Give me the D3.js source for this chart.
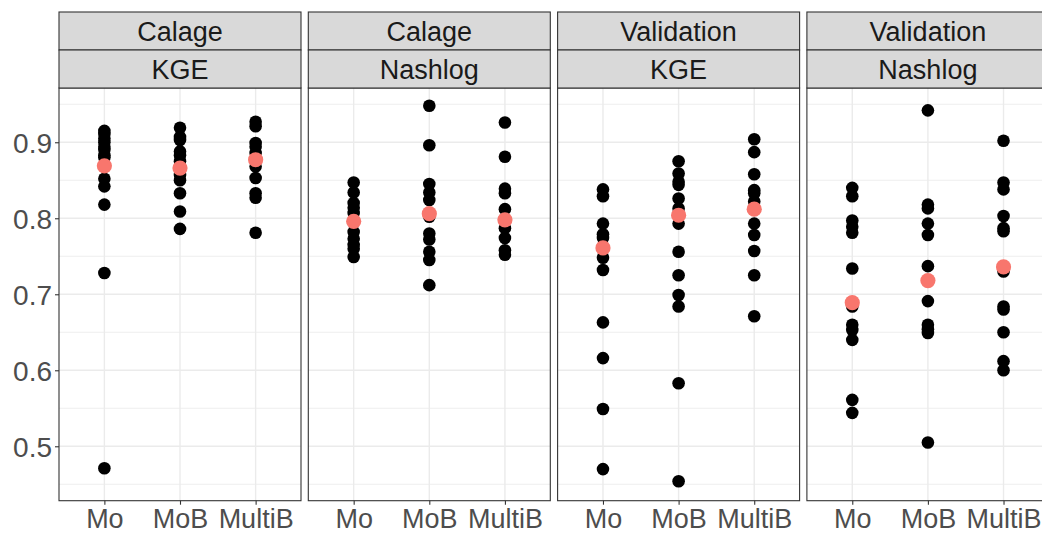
<!DOCTYPE html>
<html>
<head>
<meta charset="utf-8">
<script src="https://cdn.jsdelivr.net/npm/d3@7"></script>
<style>
  body { margin: 0; background: #fff; }
  svg { display: block; font-family: "Liberation Sans", Arial, sans-serif; }
</style>
</head>
<body>
<svg id="chart"></svg>
<script>
// categories and facet labels
const groups = ["Mo", "MoB", "MultiB"];
const periods = ["Calage", "Calage", "Validation", "Validation"];
const criteria = ["KGE", "Nashlog", "KGE", "Nashlog"];
const yTicks = [0.5, 0.6, 0.7, 0.8, 0.9];
const yMinor = [0.45, 0.55, 0.65, 0.75, 0.85, 0.95];

// individual points, one list per group (Mo, MoB, MultiB)
const calKGE = [
    [0.915, 0.911, 0.905, 0.900, 0.894, 0.890, 0.883, 0.880, 0.852, 0.842, 0.818, 0.728, 0.471],
    [0.919, 0.907, 0.903, 0.888, 0.883, 0.875, 0.857, 0.850, 0.833, 0.809, 0.786],
    [0.927, 0.921, 0.899, 0.894, 0.886, 0.868, 0.853, 0.833, 0.827, 0.781]
];
const calNash = [
    [0.847, 0.834, 0.820, 0.814, 0.807, 0.782, 0.773, 0.765, 0.760, 0.749],
    [0.948, 0.896, 0.845, 0.834, 0.824, 0.802, 0.780, 0.772, 0.756, 0.745, 0.712],
    [0.926, 0.881, 0.839, 0.833, 0.812, 0.787, 0.774, 0.758, 0.752]
];
const valKGE = [
    [0.838, 0.829, 0.793, 0.779, 0.774, 0.748, 0.732, 0.663, 0.616, 0.549, 0.470],
    [0.875, 0.859, 0.848, 0.844, 0.826, 0.813, 0.793, 0.756, 0.725, 0.699, 0.684, 0.583, 0.454],
    [0.904, 0.887, 0.858, 0.837, 0.833, 0.822, 0.793, 0.778, 0.757, 0.725, 0.671]
];
const valNash = [
    [0.840, 0.829, 0.797, 0.789, 0.781, 0.734, 0.684, 0.660, 0.653, 0.640, 0.561, 0.544],
    [0.942, 0.818, 0.813, 0.793, 0.778, 0.737, 0.691, 0.660, 0.654, 0.649, 0.505],
    [0.902, 0.847, 0.838, 0.803, 0.787, 0.783, 0.730, 0.684, 0.680, 0.650, 0.612, 0.600]
];

// summary points (red)
const calKGEmean = [0.869, 0.866, 0.877];
const calNashMean = [0.796, 0.806, 0.798];
const valKGEmean = [0.761, 0.804, 0.812];
const valNashMean = [0.689, 0.718, 0.736];

const facetPoints = [calKGE, calNash, valKGE, valNash];
const facetMeans = [calKGEmean, calNashMean, valKGEmean, valNashMean];

// layout
const W = 1042, H = 533;
const panelLeft = 59, panelW = 242, gap = 7.3;
const stripTop = 12, stripH = 38;
const panelTop = stripTop + 2 * stripH, panelBottom = 500.7;

const svg = d3.select("#chart").attr("width", W).attr("height", H);

const y = d3.scaleLinear()
    .domain([0.4284, 0.9714])
    .range([panelBottom, panelTop]);

// y axis (left of first panel)
const yAxis = svg.append("g")
    .attr("transform", `translate(${panelLeft},0)`)
    .call(d3.axisLeft(y).tickValues(yTicks).tickFormat(d3.format(".1f")).tickSize(4).tickPadding(3));
yAxis.select(".domain").remove();
yAxis.selectAll("line").attr("stroke", "#333").attr("stroke-width", 1.1);
yAxis.selectAll("text")
    .attr("fill", "#4d4d4d")
    .style("font-size", "28px")
    .attr("dy", "0.36em");

facetPoints.forEach(function (pts, i) {
    const x0 = panelLeft + i * (panelW + gap);
    const x = d3.scalePoint()
        .domain(groups)
        .range([x0, x0 + panelW])
        .padding(0.6);

    const g = svg.append("g");

    // panel background + grid
    g.append("rect")
        .attr("x", x0).attr("y", panelTop)
        .attr("width", panelW).attr("height", panelBottom - panelTop)
        .attr("fill", "#fff");

    g.selectAll(".minor")
        .data(yMinor)
        .join("line")
        .attr("x1", x0).attr("x2", x0 + panelW)
        .attr("y1", d => y(d)).attr("y2", d => y(d))
        .attr("stroke", "#ebebeb").attr("stroke-width", 0.8);

    g.selectAll(".major")
        .data(yTicks)
        .join("line")
        .attr("x1", x0).attr("x2", x0 + panelW)
        .attr("y1", d => y(d)).attr("y2", d => y(d))
        .attr("stroke", "#ebebeb").attr("stroke-width", 1.4);

    g.selectAll(".vgrid")
        .data(groups)
        .join("line")
        .attr("x1", d => x(d)).attr("x2", d => x(d))
        .attr("y1", panelTop).attr("y2", panelBottom)
        .attr("stroke", "#ebebeb").attr("stroke-width", 1.4);

    // black points
    const flat = [];
    pts.forEach((arr, k) => arr.forEach(v => flat.push({ grp: groups[k], v: v })));
    g.selectAll(".pt")
        .data(flat)
        .join("circle")
        .attr("cx", d => x(d.grp))
        .attr("cy", d => y(d.v))
        .attr("r", 6.3)
        .attr("fill", "#000");

    // red summary points
    g.selectAll(".mean")
        .data(facetMeans[i])
        .join("circle")
        .attr("cx", (d, k) => x(groups[k]))
        .attr("cy", d => y(d))
        .attr("r", 7.6)
        .attr("fill", "#f8766d");

    // panel border
    g.append("rect")
        .attr("x", x0).attr("y", panelTop)
        .attr("width", panelW).attr("height", panelBottom - panelTop)
        .attr("fill", "none").attr("stroke", "#333").attr("stroke-width", 1.1);

    // strips
    [periods[i], criteria[i]].forEach(function (lab, s) {
        const sy = stripTop + s * stripH;
        g.append("rect")
            .attr("x", x0).attr("y", sy)
            .attr("width", panelW).attr("height", stripH)
            .attr("fill", "#d9d9d9").attr("stroke", "#333").attr("stroke-width", 1.1);
        g.append("text")
            .attr("x", x0 + panelW / 2)
            .attr("y", sy + stripH / 2)
            .attr("dy", "0.36em")
            .attr("text-anchor", "middle")
            .attr("fill", "#1a1a1a")
            .style("font-size", "27px")
            .text(lab);
    });

    // x axis
    const xAxis = g.append("g")
        .attr("transform", `translate(0,${panelBottom})`)
        .call(d3.axisBottom(x).tickSize(4));
    xAxis.select(".domain").remove();
    xAxis.selectAll("line").attr("stroke", "#333").attr("stroke-width", 1.1);
    xAxis.selectAll("text")
        .attr("y", 27.3)
        .attr("dy", 0)
        .attr("fill", "#4d4d4d")
        .style("font-size", "27px");
});
</script>
</body>
</html>
